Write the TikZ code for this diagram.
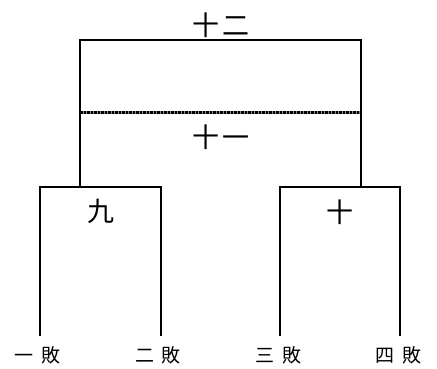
\documentclass[tikz,border=0pt]{standalone}
\usepackage{fontspec}
\newfontfamily\cjk{Noto Sans CJK TC}
\begin{document}
\begin{tikzpicture}[x=1pt,y=-1pt,
  bar/.style={line width=2pt,line cap=rect},
  hatchbase/.style={line width=3pt,black!45},
  hatch/.style={line width=3pt,dash pattern=on 2.5pt off 1pt,black},
  biglabel/.style={font=\cjk\fontsize{27}{27}\selectfont,inner sep=0pt},
  smalllabel/.style={font=\cjk\fontsize{19}{19}\selectfont,inner sep=0pt}]
\useasboundingbox (0,0) rectangle (437,369);
% top match
\coordinate (TL) at (80,40);
\coordinate (TR) at (361,40);
\coordinate (ML) at (80,186);
\coordinate (MR) at (361,186);
\coordinate (DL) at (80,113);
\coordinate (DR) at (361,113);
% left bracket
\coordinate (A1) at (40,187);
\coordinate (A2) at (161,187);
\coordinate (A1b) at (40,335);
\coordinate (A2b) at (161,335);
% right bracket
\coordinate (B1) at (280,187);
\coordinate (B2) at (400,187);
\coordinate (B1b) at (280,335);
\coordinate (B2b) at (400,335);
\draw[bar] (ML) -- (TL) -- (TR) -- (MR);
\draw[hatchbase] (DL) -- (DR);
\draw[hatch] (DL) -- (DR);
\draw[bar] (A1b) -- (A1) -- (A2) -- (A2b);
\draw[bar] (B1b) -- (B1) -- (B2) -- (B2b);
% labels
\node[biglabel] (l12) at (221,25) {十\hspace{3pt}二};
\node[biglabel] (l11) at (221,137) {十\hspace{3pt}一};
\node[biglabel] (l9) at (101,211) {九};
\node[biglabel] (l10) at (340,212) {十};
\node[smalllabel] (s1) at (38,355) {一\hspace{8pt}敗};
\node[smalllabel] (s2) at (158,355) {二\hspace{8pt}敗};
\node[smalllabel] (s3) at (278,355) {三\hspace{8pt}敗};
\node[smalllabel] (s4) at (398,355) {四\hspace{8pt}敗};
\end{tikzpicture}
\end{document}
